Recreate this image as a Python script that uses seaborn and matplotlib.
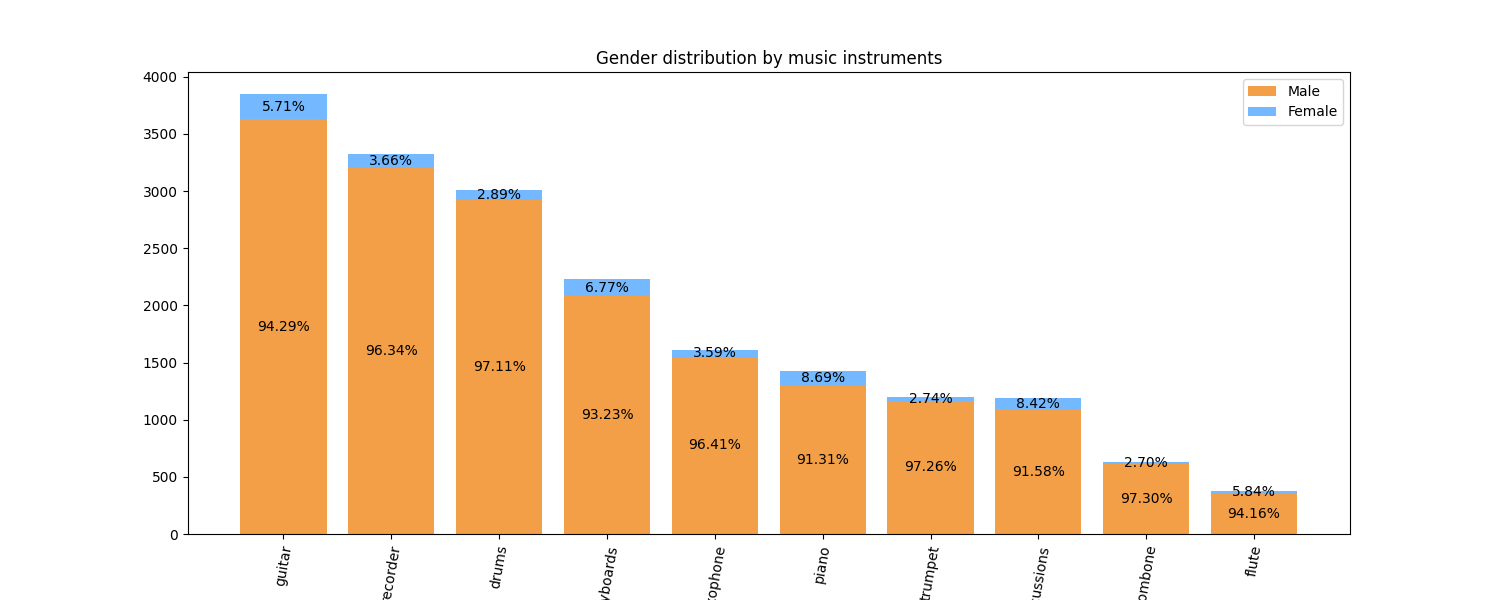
import matplotlib
matplotlib.use("Agg")
import matplotlib.pyplot as plt
import seaborn as sns
import numpy as np

instruments = ['guitar', 'recorder', 'drums', 'keyboards', 'saxophone', 'piano',
               'trumpet', 'percussions', 'trombone', 'flute']
totals = [3850, 3325, 3010, 2230, 1610, 1425, 1200, 1190, 630, 375]
male_pct = [94.29, 96.34, 97.11, 93.23, 96.41, 91.31, 97.26, 91.58, 97.30, 94.16]
female_pct = [5.71, 3.66, 2.89, 6.77, 3.59, 8.69, 2.74, 8.42, 2.70, 5.84]

totals = np.array(totals, dtype=float)
male = totals * np.array(male_pct) / 100
female = totals - male

fig, ax = plt.subplots(figsize=(15, 6))
sns.barplot(x=instruments, y=totals, color='#74b9ff', saturation=1, width=0.8,
            label='Female', ax=ax)
sns.barplot(x=instruments, y=male, color='#f39f47', saturation=1, width=0.8,
            label='Male', ax=ax)

for i in range(len(instruments)):
    ax.text(i, male[i] / 2, f"{male_pct[i]:.2f}%", ha='center', va='center', fontsize=10)
    ax.text(i, male[i] + female[i] / 2, f"{female_pct[i]:.2f}%", ha='center', va='center', fontsize=10)

handles, labels = ax.get_legend_handles_labels()
ax.legend(handles[::-1], labels[::-1], loc='upper right')
ax.set_title('Gender distribution by music instruments')
ax.tick_params(axis='x', rotation=80)
ax.set_xlim(-0.89, len(instruments) - 0.11)
plt.savefig('out.png', dpi=100)
